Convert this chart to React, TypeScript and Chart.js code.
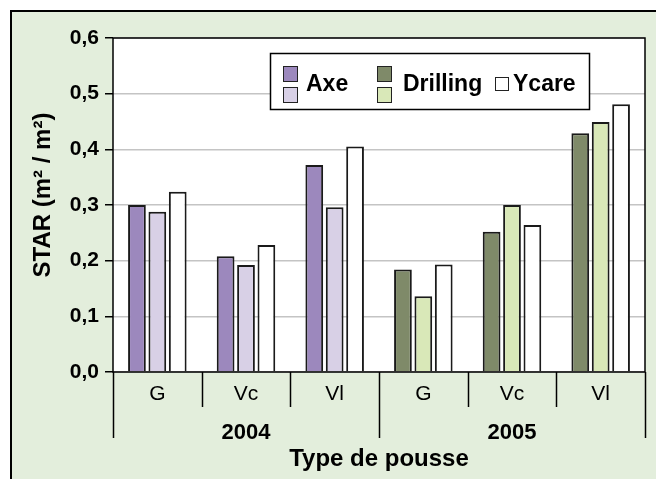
import React, { useEffect, useRef } from "react";
import { Chart, registerables } from "chart.js";

Chart.register(...registerables);

// ---- data ----
const categories = ["G", "Vc", "Vl", "G", "Vc", "Vl"];
const years = ["2004", "2005"];
const seriesDark = [0.3, 0.208, 0.372, 0.184, 0.252, 0.429];
const seriesLight = [0.288, 0.192, 0.296, 0.136, 0.3, 0.449];
const seriesWhite = [0.324, 0.228, 0.405, 0.193, 0.264, 0.481];
const legendLabels = ["Axe", "Drilling", "Ycare"];
const yAxisTitle = "STAR (m² / m²)";
const xAxisTitle = "Type de pousse";

// ---- styles ----
const BG = "#e3eedc";
const DARK_2004 = "#9c88bd";
const LIGHT_2004 = "#d8d0e6";
const DARK_2005 = "#7f8a69";
const LIGHT_2005 = "#d9e8b8";
const FONT = "'Liberation Sans', Arial, sans-serif";
const perGroup = categories.length / years.length;

const darkColors = categories.map((_, i) => (i < perGroup ? DARK_2004 : DARK_2005));
const lightColors = categories.map((_, i) => (i < perGroup ? LIGHT_2004 : LIGHT_2005));

const decor = {
  id: "decor",
  beforeDraw(chart: any) {
    const { ctx, width, height, chartArea: a } = chart;
    ctx.save();
    ctx.fillStyle = "#ffffff";
    ctx.fillRect(0, 0, width, height);
    ctx.fillStyle = BG;
    ctx.fillRect(10, 10, width, height);
    ctx.fillStyle = "#000";
    ctx.fillRect(10, 10, width - 10, 2);
    ctx.fillRect(10, 10, 2, height - 10);
    ctx.fillStyle = "#ffffff";
    ctx.fillRect(a.left, a.top, a.right - a.left, a.bottom - a.top);
    ctx.restore();
  },
  afterDraw(chart: any) {
    const { ctx, chartArea: a } = chart;
    const x = chart.scales.x;
    ctx.save();
    // plot frame
    ctx.strokeStyle = "#000";
    ctx.lineWidth = 1.5;
    ctx.strokeRect(a.left, a.top, a.right - a.left, a.bottom - a.top);
    // category dividers
    for (let b = 0; b <= categories.length; b++) {
      const px = Math.round(x.getPixelForValue(b - 0.5)) + 0.5;
      const long = b % perGroup === 0;
      ctx.beginPath();
      ctx.moveTo(px, a.bottom);
      ctx.lineTo(px, a.bottom + (long ? 66 : 35));
      ctx.stroke();
    }
    // year labels
    ctx.fillStyle = "#000";
    ctx.font = `bold 22px ${FONT}`;
    ctx.textAlign = "center";
    ctx.textBaseline = "middle";
    years.forEach((yr, g) => {
      const cx = x.getPixelForValue(g * perGroup + (perGroup - 1) / 2);
      ctx.fillText(yr, cx, a.bottom + 61);
    });
    // y axis title
    ctx.save();
    ctx.translate(43, 195);
    ctx.rotate(-Math.PI / 2);
    ctx.font = `bold 24px ${FONT}`;
    ctx.textAlign = "center";
    ctx.textBaseline = "middle";
    ctx.fillText(yAxisTitle, 0, 0);
    ctx.restore();

    // legend
    const lx = 270, ly = 53, lw = 319, lh = 56;
    ctx.fillStyle = "#fff";
    ctx.fillRect(lx, ly, lw, lh);
    ctx.lineWidth = 1.5;
    ctx.strokeStyle = "#000";
    ctx.strokeRect(lx + 0.5, ly + 0.5, lw, lh);
    const sq = (sx: number, sy: number, w: number, h: number, c: string) => {
      ctx.fillStyle = c;
      ctx.fillRect(sx, sy, w, h);
      ctx.lineWidth = 1;
      ctx.strokeStyle = "#222";
      ctx.strokeRect(sx + 0.5, sy + 0.5, w - 1, h - 1);
    };
    sq(283, 66, 15, 16, DARK_2004);
    sq(283, 87, 15, 16, LIGHT_2004);
    sq(377, 66, 15, 16, DARK_2005);
    sq(377, 87, 15, 16, LIGHT_2005);
    sq(495, 77, 14, 14, "#ffffff");
    ctx.fillStyle = "#000";
    ctx.font = `bold 23px ${FONT}`;
    ctx.textAlign = "left";
    ctx.textBaseline = "alphabetic";
    ctx.fillText(legendLabels[0], 306, 91);
    ctx.fillText(legendLabels[1], 403, 91);
    ctx.fillText(legendLabels[2], 513, 91);
    ctx.restore();
  },
};

export default function App() {
  const ref = useRef<HTMLCanvasElement | null>(null);
  useEffect(() => {
    if (!ref.current) return;
    const barCommon = {
      borderColor: "#1a1a1a",
      borderWidth: 2,
      categoryPercentage: 0.69,
      barPercentage: 0.87,
    };
    const chart = new Chart(ref.current, {
      type: "bar",
      data: {
        labels: categories,
        datasets: [
          { label: legendLabels[0], data: seriesDark, backgroundColor: darkColors, ...barCommon },
          { label: legendLabels[1], data: seriesLight, backgroundColor: lightColors, ...barCommon },
          { label: legendLabels[2], data: seriesWhite, backgroundColor: "#ffffff", ...barCommon },
        ],
      },
      options: {
        responsive: false,
        animation: false,
        layout: { padding: { left: 0, top: 38, right: 11, bottom: 0 } },
        plugins: {
          legend: { display: false },
          tooltip: { enabled: false },
        },
        scales: {
          x: {
            grid: { display: false, drawTicks: false },
            border: { display: false },
            ticks: {
              color: "#000",
              font: { family: FONT, size: 21 },
              padding: 10,
              maxRotation: 0,
            },
            title: {
              display: true,
              text: xAxisTitle,
              color: "#000",
              font: { family: FONT, size: 24, weight: "bold" },
              padding: { top: 0, bottom: 5 },
            },
            afterFit: (s: any) => {
              s.height = 107;
            },
          },
          y: {
            min: 0,
            max: 0.6,
            grid: {
              color: "#c4c4c4",
              lineWidth: 1.5,
              tickColor: "#000",
              tickLength: 8,
              tickWidth: 1.5,
              drawTicks: true,
            },
            border: { display: false },
            ticks: {
              stepSize: 0.1,
              color: "#000",
              padding: 6,
              font: { family: FONT, size: 21, weight: "bold" },
              callback: (v: any) => Number(v).toFixed(1).replace(".", ","),
            },
            afterFit: (s: any) => {
              s.width = 113;
            },
          },
        },
      },
      plugins: [decor],
    });
    return () => chart.destroy();
  }, []);
  return (
    <div style={{ position: "fixed", left: 0, top: 0, width: 656, height: 479 }}>
      <canvas ref={ref} width={656} height={479} style={{ display: "block" }} />
    </div>
  );
}
